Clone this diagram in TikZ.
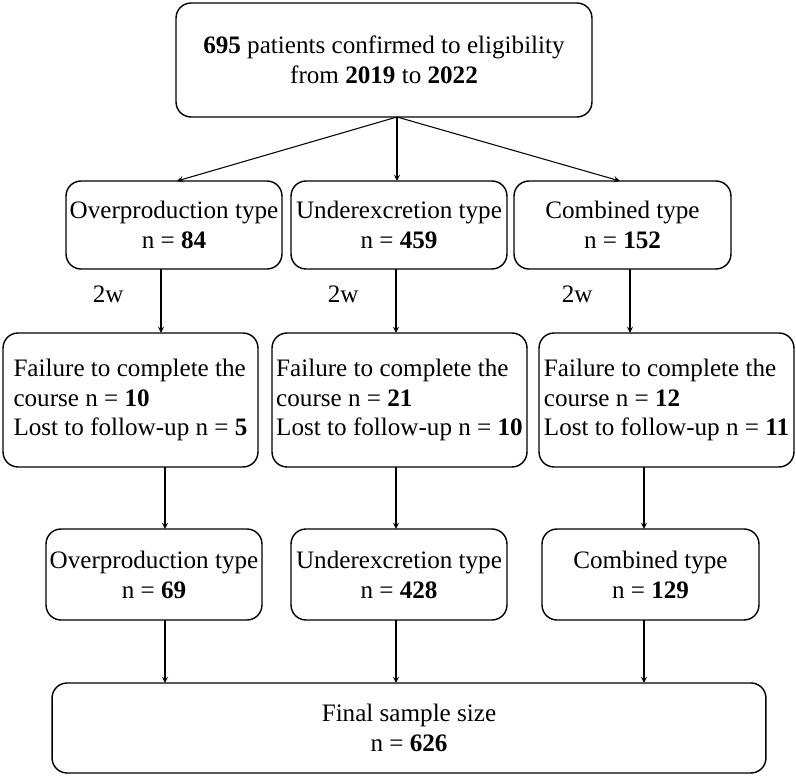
\documentclass[tikz,border=0pt]{standalone}
\usepackage{fontspec}
\setmainfont{Liberation Serif}
\usetikzlibrary{positioning}
\begin{document}
\begin{tikzpicture}[x=0.02cm,y=-0.02cm,font=\fontsize{14.3}{17}\selectfont,
	box/.style={draw, rounded corners=0.3cm, line width=0.8pt, align=center, inner sep=0pt},
	arr/.style={->, >=stealth, line width=0.6pt}]
	\useasboundingbox (0,0) rectangle (796,776);
	
	\node[box, minimum width=8.32cm, minimum height=2.28cm] (T) at (384,60) {\textbf{695} patients confirmed to eligibility\\from \textbf{2019} to \textbf{2022}};
	
	\node[box, minimum width=4.32cm, minimum height=1.76cm] (O1) at (174,225) {Overproduction type\\n = \textbf{84}};
	\node[box, minimum width=4.32cm, minimum height=1.76cm] (U1) at (399,225) {Underexcretion type\\n = \textbf{459}};
	\node[box, minimum width=4.34cm, minimum height=1.76cm] (C1) at (622.5,225) {Combined type\\n = \textbf{152}};
	
	\node[box, minimum width=5.1cm, minimum height=2.68cm, align=left] (O2) at (130.5,400) {Failure to complete the\\course n = \textbf{10}\\Lost to follow-up n = \textbf{5}};
	\node[box, minimum width=5.1cm, minimum height=2.68cm, align=left] (U2) at (399.5,400) {Failure to complete the\\course n = \textbf{21}\\Lost to follow-up n = \textbf{10}};
	\node[box, minimum width=5.1cm, minimum height=2.68cm, align=left] (C2) at (666.5,400) {Failure to complete the\\course n = \textbf{12}\\Lost to follow-up n = \textbf{11}};
	
	\node[box, minimum width=4.32cm, minimum height=1.82cm] (O3) at (154,574.5) {Overproduction type\\n = \textbf{69}};
	\node[box, minimum width=4.32cm, minimum height=1.82cm] (U3) at (399,574.5) {Underexcretion type\\n = \textbf{428}};
	\node[box, minimum width=4.34cm, minimum height=1.82cm] (C3) at (650.5,574.5) {Combined type\\n = \textbf{129}};
	
	\node[box, minimum width=14.28cm, minimum height=1.8cm] (F) at (409,728) {Final sample size\\n = \textbf{626}};
	
	\coordinate (t0) at (397,117);
	\draw[arr] (t0) -- (177,181);
	\draw[arr] (t0) -- (397,181);
	\draw[arr] (t0) -- (620,181);
	
	\foreach \x in {161,396,630}
		\draw[arr] (\x,269) -- node[left=0.62cm, pos=0.4] {2w} (\x,333);
	\foreach \x in {165,396,644} {
		\draw[arr] (\x,467) -- (\x,529);
		\draw[arr] (\x,620) -- (\x,683);
	}
\end{tikzpicture}
\end{document}
